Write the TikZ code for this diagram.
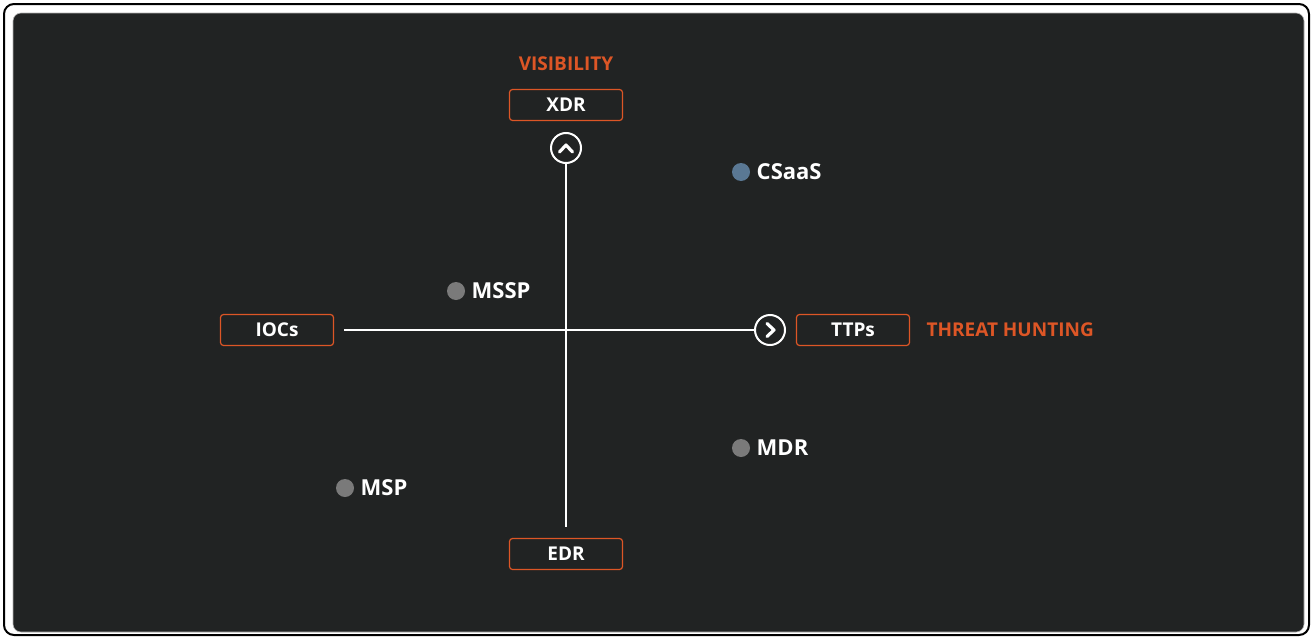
\documentclass[tikz,border=0pt]{standalone}
\usepackage{fontspec}
\setmainfont{Open Sans}
\usetikzlibrary{calc}
\definecolor{panel}{HTML}{212323}
\definecolor{accent}{HTML}{DD5626}
\definecolor{dotgray}{HTML}{7A7A7A}
\definecolor{dotblue}{HTML}{5A7894}
\begin{document}
\begin{tikzpicture}[x=1pt, y=-1pt]
    % Define styles
    \tikzset{
        tagbox/.style={
            draw=accent,
            line width=1.2pt,
            rounded corners=3pt,
            minimum width=113pt,
            minimum height=31pt,
            text=white,
            font=\bfseries\fontsize{19}{22}\selectfont
        },
        axislabel/.style={
            text=accent,
            font=\bfseries\fontsize{19}{22}\selectfont
        },
        endcircle/.style={
            circle,
            draw=white,
            line width=2pt,
            minimum size=30pt,
            inner sep=0pt
        },
        chevron/.style={
            white,
            line width=3.2pt,
            line cap=round,
            line join=round
        },
        dot/.style={
            circle,
            inner sep=0pt,
            minimum size=18pt
        },
        dotlabel/.style={
            anchor=west,
            text=white,
            font=\bfseries\fontsize{22}{25}\selectfont
        },
        axis/.style={
            white,
            line width=2pt
        }
    }

    \useasboundingbox (0,0) rectangle (1312,637);

    % Frame
    \draw[line width=2pt, rounded corners=10pt, fill=white] (4,4) rectangle (1309,635);
    \draw[fill=panel, draw=gray!60, line width=0.6pt, rounded corners=8pt] (13,13) rectangle (1304,632);

    % Axis end labels
    \node[axislabel] (vis) at (566,64) {VISIBILITY};
    \node[tagbox] (xdr) at (566,105) {XDR};
    \node[tagbox] (edr) at (566,554) {EDR};
    \node[tagbox] (iocs) at (277,330) {IOCs};
    \node[tagbox] (ttps) at (853,330) {TTPs};
    \node[axislabel, anchor=west] (hunt) at (923,330) {THREAT HUNTING};

    % Arrow circles
    \node[endcircle] (upc) at (566,148) {};
    \node[endcircle] (rightc) at (770,330) {};
    \draw[chevron] ($(upc)+(-6.5,4)$) -- ($(upc)+(0,-3)$) -- ($(upc)+(6.5,4)$);
    \draw[chevron] ($(rightc)+(-3,-6.5)$) -- ($(rightc)+(4,0)$) -- ($(rightc)+(-3,6.5)$);

    % Axes
    \draw[axis, shorten <=11pt] (edr.north) -- (upc.south);
    \draw[axis, shorten <=10pt] (iocs.east) -- (rightc.west);

    % Providers
    \node[dot, fill=dotblue] (csaas) at (741,172) {};
    \node[dotlabel] at ($(csaas.east)+(3,0)$) {CSaaS};
    \node[dot, fill=dotgray] (mssp) at (456,291) {};
    \node[dotlabel] at ($(mssp.east)+(3,0)$) {MSSP};
    \node[dot, fill=dotgray] (mdr) at (741,448) {};
    \node[dotlabel] at ($(mdr.east)+(3,0)$) {MDR};
    \node[dot, fill=dotgray] (msp) at (345,488) {};
    \node[dotlabel] at ($(msp.east)+(3,0)$) {MSP};
\end{tikzpicture}
\end{document}
